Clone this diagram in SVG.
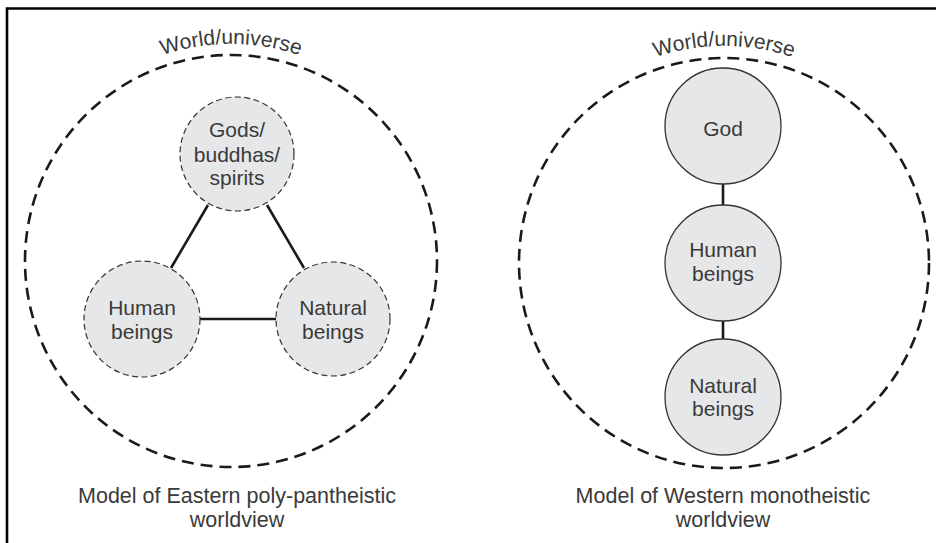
<svg xmlns="http://www.w3.org/2000/svg" width="936" height="543" viewBox="0 0 936 543">
<style>
.world{fill:none;stroke:#1a1a1a;stroke-width:2.6;stroke-dasharray:12 7}
.dnode{fill:#e6e7e8;stroke:#333;stroke-width:1.2;stroke-dasharray:6 3.5}
.snode{fill:#e6e7e8;stroke:#333;stroke-width:1.3}
.edge{stroke:#1a1a1a;stroke-width:2.6;fill:none}
text{font-family:"Liberation Sans",Arial,Helvetica,sans-serif;fill:#3a3a3a;font-size:21px;text-anchor:middle}
.lbl{font-size:21px}
</style>
<defs>
<path id="arcL" d="M 14,261 A 217,217 0 0 1 448,261"/>
<path id="arcR" d="M 507,263 A 217,217 0 0 1 941,263"/>
</defs>
<path d="M7,543 V8.5 H936" fill="none" stroke="#000" stroke-width="2.6"/>
<g id="world-left">
<circle class="world" cx="231" cy="261" r="206"/>
<text class="lbl"><textPath href="#arcL" startOffset="50%">World/universe</textPath></text>
</g>
<g id="world-right">
<circle class="world" cx="724" cy="263" r="205"/>
<text class="lbl"><textPath href="#arcR" startOffset="50%">World/universe</textPath></text>
</g>
<g id="connectors">
<line class="edge" x1="208" y1="205" x2="171" y2="268"/>
<line class="edge" x1="267" y1="205" x2="304" y2="268"/>
<line class="edge" x1="200" y1="319" x2="276" y2="319"/>
<line class="edge" x1="723" y1="184" x2="723" y2="205"/>
<line class="edge" x1="723" y1="320" x2="723" y2="340"/>
</g>
<g id="gods">
<circle class="dnode" cx="237" cy="154" r="57"/>
<text x="237" y="137">Gods/</text>
<text x="237" y="162">buddhas/</text>
<text x="237" y="185">spirits</text>
</g>
<g id="human-east">
<circle class="dnode" cx="142" cy="319" r="58"/>
<text x="142" y="315">Human</text>
<text x="142" y="339">beings</text>
</g>
<g id="natural-east">
<circle class="dnode" cx="333" cy="319" r="57"/>
<text x="333" y="315">Natural</text>
<text x="333" y="339">beings</text>
</g>
<g id="god">
<circle class="snode" cx="723" cy="126" r="58"/>
<text x="723" y="136">God</text>
</g>
<g id="human-west">
<circle class="snode" cx="723" cy="263" r="58"/>
<text x="723" y="257">Human</text>
<text x="723" y="281">beings</text>
</g>
<g id="natural-west">
<circle class="snode" cx="723" cy="397" r="58"/>
<text x="723" y="393">Natural</text>
<text x="723" y="416">beings</text>
</g>
<g id="captions">
<text x="237" y="503" style="font-size:21.5px">Model of Eastern poly-pantheistic</text>
<text x="237" y="527" style="font-size:21.5px">worldview</text>
<text x="723" y="503" style="font-size:21.5px">Model of Western monotheistic</text>
<text x="723" y="527" style="font-size:21.5px">worldview</text>
</g>
</svg>
